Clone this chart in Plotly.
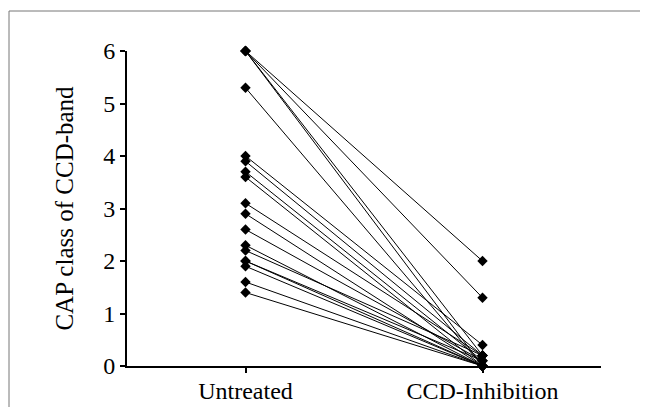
import plotly.graph_objects as go

categories = ["Untreated", "CCD-Inhibition"]
untreated = [6.0, 6.0, 6.0, 6.0, 5.3, 4.0, 3.9, 3.7, 3.6, 3.1, 2.9, 2.6, 2.3, 2.2, 2.0, 2.0, 1.9, 1.6, 1.4]
ccd_inhibition = [2.0, 1.3, 0.2, 0.0, 0.0, 0.4, 0.2, 0.1, 0.0, 0.2, 0.0, 0.1, 0.0, 0.2, 0.0, 0.1, 0.0, 0.0, 0.0]
y_ticks = [0, 1, 2, 3, 4, 5, 6]

fig = go.Figure()
for a, b in zip(untreated, ccd_inhibition):
    fig.add_trace(go.Scatter(
        x=categories, y=[a, b], mode="lines+markers",
        line=dict(color="black", width=1),
        marker=dict(symbol="diamond", size=8, color="black"),
        showlegend=False, cliponaxis=False,
    ))

# page offset (browser body margin)
DX, DY = 8, 8
W, H = 648, 407
L, T = 127 - DX, 51 - DY
pw, ph = 474, 315
R, B = W - L - pw, H - T - ph

def px(x):
    return (x - DX - L) / pw

def py(y):
    return (H - B - (y - DY)) / ph

fig.add_shape(type="rect", xref="paper", yref="paper",
              x0=px(9), x1=px(700), y0=py(11), y1=py(460),
              line=dict(color="#777777", width=1), fillcolor="rgba(0,0,0,0)")

font = dict(family="Liberation Serif, Times New Roman, serif", size=24, color="black")
title_font = dict(family="Liberation Serif, Times New Roman, serif", size=25, color="black")
fig.update_layout(
    width=W, height=H,
    margin=dict(l=L, r=R, t=T, b=B, autoexpand=False),
    paper_bgcolor="white", plot_bgcolor="white",
    font=font,
    xaxis=dict(type="category", range=[-0.5, 1.5], showline=True, linecolor="black", linewidth=2,
               ticks="outside", ticklen=5, tickcolor="black", tickwidth=1.5, automargin=False,
               showgrid=False, zeroline=False, tickfont=font, ticklabelstandoff=-3),
    yaxis=dict(range=[0, 6], tickvals=y_ticks, showline=True, linecolor="black", linewidth=2,
               ticks="outside", ticklen=5, tickcolor="black", tickwidth=1.5, automargin=False,
               showgrid=False, zeroline=False, tickfont=font, ticklabelstandoff=0,
               title=dict(text="CAP class of CCD-band", font=title_font, standoff=22)),
)
fig.write_html("out.html")
